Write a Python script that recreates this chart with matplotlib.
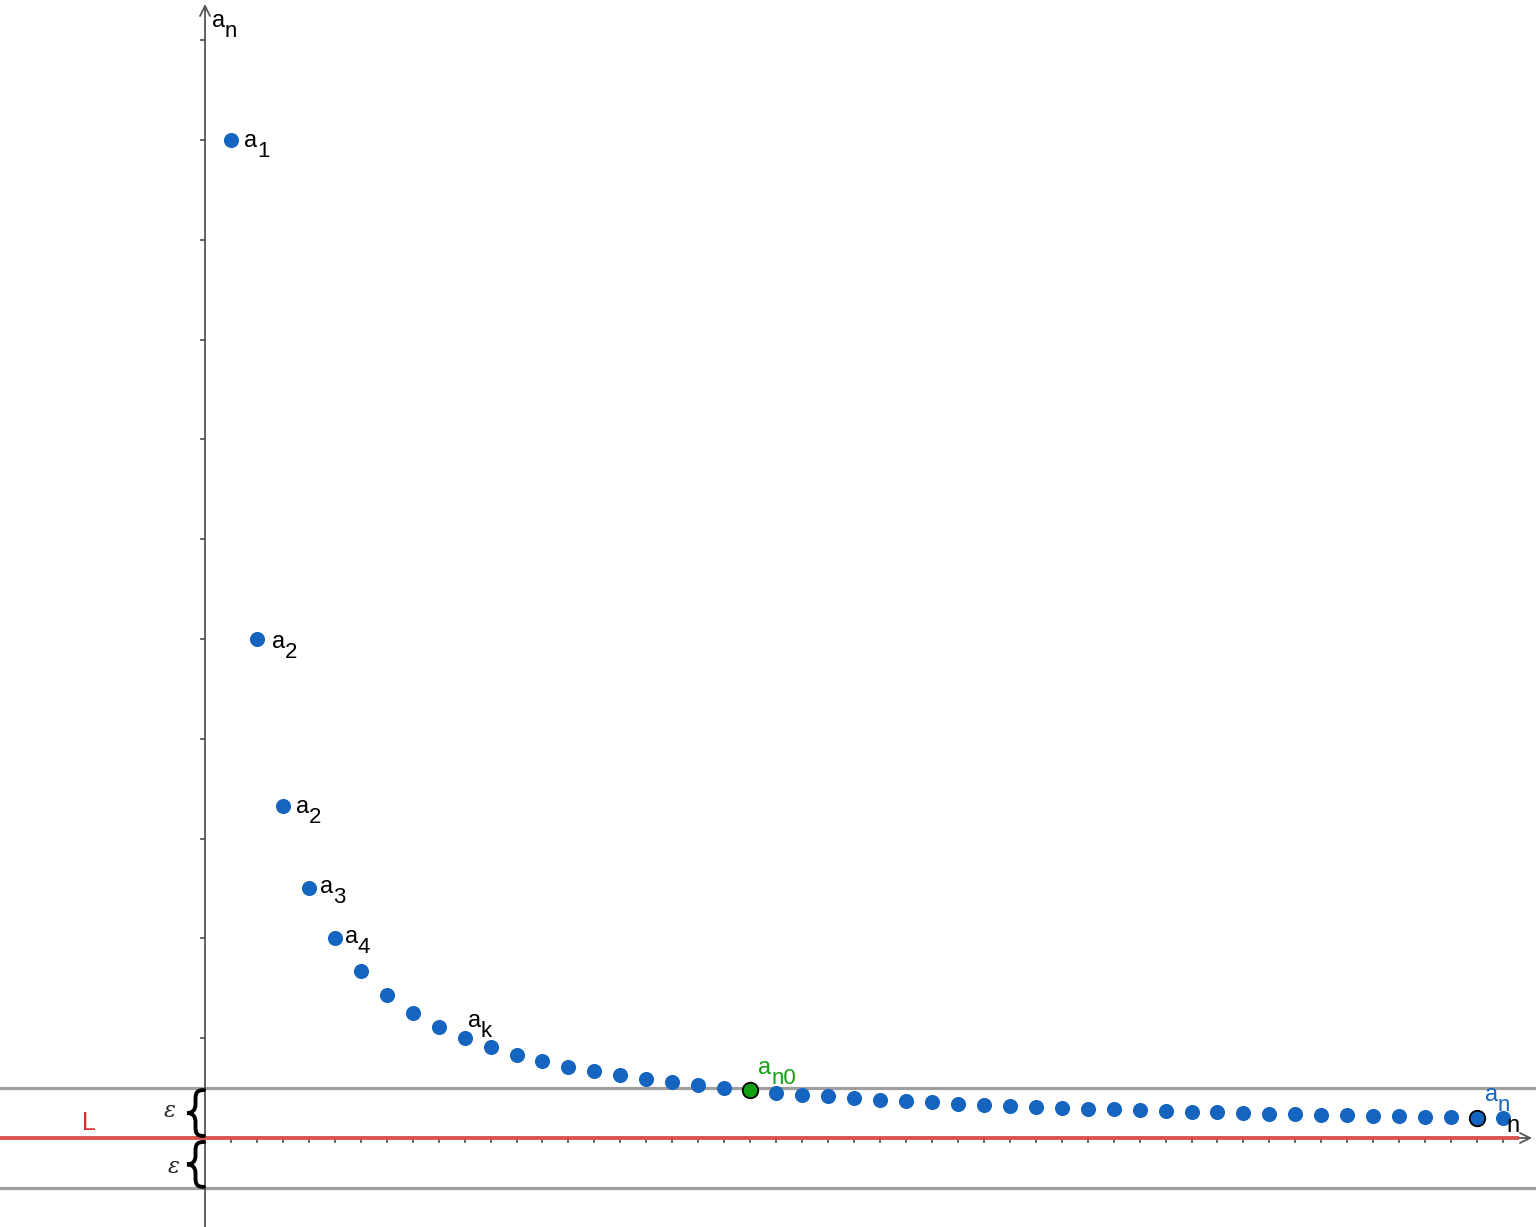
import matplotlib
matplotlib.use("Agg")
import matplotlib.pyplot as plt
from matplotlib.path import Path
from matplotlib.patches import PathPatch

plt.rcParams['font.family'] = ['Liberation Sans', 'DejaVu Sans']

# ---- data (sequence values a_n for n = 1..50) ----
n_values = list(range(1, 51))
a_values = [1.000, 0.500, 0.333, 0.250, 0.200, 0.167, 0.143, 0.125, 0.111, 0.100,
            0.091, 0.083, 0.077, 0.071, 0.067, 0.063, 0.059, 0.056, 0.053, 0.050,
            0.048, 0.045, 0.043, 0.042, 0.040, 0.038, 0.037, 0.036, 0.034, 0.033,
            0.032, 0.031, 0.030, 0.029, 0.029, 0.028, 0.027, 0.026, 0.026, 0.025,
            0.024, 0.024, 0.023, 0.023, 0.022, 0.022, 0.021, 0.021, 0.020, 0.020]
limit_L = 0.0
epsilon = 0.05
n0 = 21
n_marked = 49
x_ticks = list(range(1, 51))
y_ticks = [0.1, 0.2, 0.3, 0.4, 0.5, 0.6, 0.7, 0.8, 0.9, 1.0, 1.1]

# labels: (index n, main, subscript, color, dx px, dy px)
point_labels = [
    (1, 'a', '1', 'black', 13, -7),
    (2, 'a', '2', 'black', 15, -9),
    (3, 'a', '2', 'black', 13, -7),
    (4, 'a', '3', 'black', 11, -5),
    (5, 'a', '4', 'black', 10, -5),
    (10, 'a', 'k', 'black', 3, 11),
    (21, 'a', 'n0', '#14a014', 8, 16),
    (50, 'a', 'n', '#1565c0', -18, 17),
]

BLUE = '#1565c0'
W, H = 1536, 1227
fig = plt.figure(figsize=(W / 100, H / 100), dpi=100)
ax = fig.add_axes([0, 0, 1, 1])
ax.set_xlim(-7.897, 51.27)
ax.set_ylim(-0.0892, 1.1403)
ax.axis('off')

px_x = 1 / 25.96   # data units per pixel (x)
px_y = 1 / 998.0   # data units per pixel (y)

MAIN_FS = 17
SUB_FS = 16
A_WIDTH = 13   # px advance of "a"
SUB_DROP = 10  # px


def sub_label(x, y, dx, dy, main, sub, color, z=7):
    ax.annotate(main, xy=(x, y), xytext=(dx, dy), textcoords='offset pixels',
                ha='left', va='baseline', fontsize=MAIN_FS, color=color, zorder=z)
    ax.annotate(sub, xy=(x, y), xytext=(dx + A_WIDTH, dy - SUB_DROP),
                textcoords='offset pixels', ha='left', va='baseline',
                fontsize=SUB_FS, color=color, zorder=z)


# epsilon band lines
ax.axhline(limit_L + epsilon, color='#9e9e9e', lw=2.3, zorder=1)
ax.axhline(limit_L - epsilon, color='#9e9e9e', lw=2.3, zorder=1)

# axes with arrows
axis_col = '#555555'
ax.annotate('', xy=(0, 1.1403 - 4 * px_y), xytext=(0, -0.0892),
            arrowprops=dict(arrowstyle='->', color=axis_col, lw=1.3,
                            mutation_scale=18, shrinkA=0, shrinkB=0), zorder=2)
ax.annotate('', xy=(51.27 - 4 * px_x, 0), xytext=(0, 0),
            arrowprops=dict(arrowstyle='->', color=axis_col, lw=1.3,
                            mutation_scale=18, shrinkA=0, shrinkB=0), zorder=2)
# ticks
for t in y_ticks:
    ax.plot([-4 * px_x, 0], [t, t], color=axis_col, lw=1.3, zorder=2)
for t in x_ticks:
    ax.plot([t, t], [0, -4 * px_y], color=axis_col, lw=1.3, zorder=2)

# limit line L
ax.plot([-7.897, 50.6], [limit_L, limit_L], color='#d9534f', lw=2.8,
        zorder=3, solid_capstyle='butt')
ax.text((89 - 205) * px_x, limit_L + 8 * px_y, 'L', color='#d32f2f', fontsize=18,
        ha='center', va='baseline')

# sequence points
ax.scatter(n_values, a_values, s=118, color=BLUE, zorder=5, linewidths=0)
i0 = n_values.index(n0)
ax.scatter([n0], [a_values[i0]], s=125, color='#12a012', edgecolors='black',
           linewidths=1.3, zorder=6)
im = n_values.index(n_marked)
ax.scatter([n_marked], [a_values[im]], s=125, color=BLUE, edgecolors='black',
           linewidths=1.3, zorder=6)

for n, main, sub, col, dx, dy in point_labels:
    i = n_values.index(n)
    sub_label(n, a_values[i], dx, dy, main, sub, col)

# axis labels
sub_label(0, 1.1403, 7, -27, 'a', 'n', 'black')
ax.annotate('n', xy=(50, 0), xytext=(3, 6), textcoords='offset pixels',
            ha='left', va='baseline', fontsize=MAIN_FS, color='black', zorder=7)


# braces
def brace(x_right, y_top, y_bot):
    w = 17 * px_x
    xs = x_right - 1 * px_x
    xm = xs - w / 2
    xt = xs - w
    ym = (y_top + y_bot) / 2
    hk = 9 * px_y
    verts = [
        (xs, y_top),
        (xm + 2 * px_x, y_top), (xm, y_top - 2 * px_y), (xm, y_top - hk),
        (xm, ym + hk),
        (xm, ym + 3 * px_y), (xm - 3 * px_x, ym), (xt, ym),
        (xm - 3 * px_x, ym), (xm, ym - 3 * px_y), (xm, ym - hk),
        (xm, y_bot + hk),
        (xm, y_bot + 2 * px_y), (xm + 2 * px_x, y_bot), (xs, y_bot),
    ]
    codes = [Path.MOVETO,
             Path.CURVE4, Path.CURVE4, Path.CURVE4,
             Path.LINETO,
             Path.CURVE4, Path.CURVE4, Path.CURVE4,
             Path.CURVE4, Path.CURVE4, Path.CURVE4,
             Path.LINETO,
             Path.CURVE4, Path.CURVE4, Path.CURVE4]
    ax.add_patch(PathPatch(Path(verts, codes), fill=False, lw=2.8,
                           color='black', zorder=4, capstyle='round'))


brace(0, limit_L + epsilon - 2 * px_y, limit_L + 2 * px_y)
brace(0, limit_L - 4 * px_y, limit_L - epsilon + 1 * px_y)

ax.text(-1.35, limit_L + epsilon / 2 + 2 * px_y, 'ε', fontsize=16, style='italic',
        family='DejaVu Serif', ha='center', va='center', color='#222222')
ax.text(-1.2, limit_L - epsilon / 2 - 4 * px_y, 'ε', fontsize=16, style='italic',
        family='DejaVu Serif', ha='center', va='center', color='#222222')

fig.savefig('out.png', dpi=100)
